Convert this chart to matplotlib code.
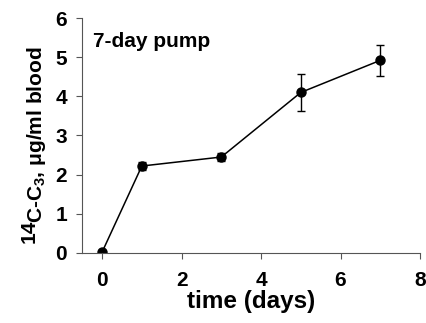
import matplotlib
matplotlib.use("Agg")
import matplotlib.pyplot as plt

days = [0, 1, 3, 5, 7]
conc = [0.02, 2.22, 2.45, 4.10, 4.92]
err = [0.0, 0.10, 0.10, 0.48, 0.40]

plt.rcParams["font.family"] = ["Liberation Sans", "DejaVu Sans"]
plt.rcParams["font.weight"] = "bold"
plt.rcParams["mathtext.fontset"] = "custom"
plt.rcParams["mathtext.rm"] = "Liberation Sans:bold"
plt.rcParams["mathtext.bf"] = "Liberation Sans:bold"
plt.rcParams["mathtext.default"] = "bf"

fig = plt.figure(figsize=(4.26, 3.23), dpi=100)
ax = fig.add_axes([0.193, 0.217, 0.793, 0.727])

ax.errorbar(days, conc, yerr=err, color="black", marker="o", markersize=6.5,
            linewidth=1.1, elinewidth=1, capsize=3, capthick=1)

ax.set_xlim(-0.5, 8)
ax.set_ylim(0, 6)
ax.set_xticks([0, 2, 4, 6, 8])
ax.set_yticks(range(7))
ax.spines["top"].set_visible(False)
ax.spines["right"].set_visible(False)
ax.spines["left"].set_color("#555555")
ax.spines["bottom"].set_color("#555555")
ax.tick_params(labelsize=15, length=4, color="#555555", pad=7)
ax.tick_params(axis="x", pad=9)
for lab in ax.get_xticklabels() + ax.get_yticklabels():
    lab.set_fontweight("bold")

ax.set_xlabel("time (days)", fontsize=17.5, fontweight="bold", labelpad=0)

# y label: "14" raised at full size, then the rest
ylab = fig.text(0.085, 0.31, "C-C$_3$, μg/ml blood", rotation=90,
                fontsize=15, fontweight="bold", ha="center", va="bottom")
ax.annotate("14", xy=(0, 0), xycoords=ylab, xytext=(-5, 3),
            textcoords="offset pixels", rotation=90, fontsize=15,
            fontweight="bold", ha="left", va="top")

ax.text(-0.23, 5.4, "7-day pump", fontsize=15, fontweight="bold", va="center")

fig.savefig("out.png", dpi=100)
